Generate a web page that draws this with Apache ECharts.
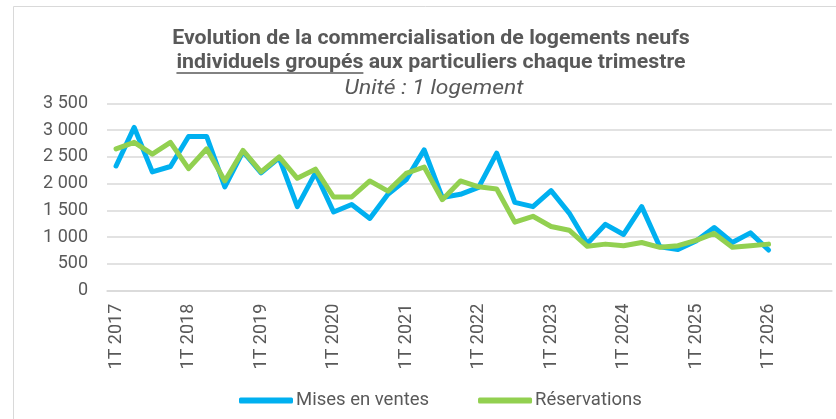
<!DOCTYPE html>
<html>
<head>
<meta charset="utf-8">
<script src="https://cdn.jsdelivr.net/npm/echarts@6/dist/echarts.min.js"></script>
<style>
html,body{margin:0;padding:0;background:#fff;}
#chart{width:836px;height:419px;}
</style>
</head>
<body>
<div id="chart"></div>
<script>
// ---- data ----
const years = [2017, 2018, 2019, 2020, 2021, 2022, 2023, 2024, 2025, 2026];
const quarters = ['1T', '2T', '3T', '4T'];
const categories = [];
years.forEach(y => quarters.forEach(q => categories.push(q + ' ' + y)));

const misesEnVentes = [2330, 3050, 2220, 2320, 2880, 2880, 1940, 2600, 2200, 2480,
  1570, 2200, 1470, 1610, 1350, 1800, 2070, 2630, 1740, 1800,
  1930, 2570, 1650, 1570, 1870, 1450, 880, 1240, 1050, 1570,
  820, 770, 930, 1180, 900, 1080, 760];
const reservations = [2650, 2770, 2550, 2770, 2280, 2650, 2050, 2620, 2220, 2500,
  2100, 2270, 1750, 1750, 2050, 1860, 2190, 2310, 1700, 2050,
  1940, 1900, 1280, 1390, 1200, 1130, 830, 870, 840, 900,
  810, 840, 940, 1070, 810, 840, 870];
const yTicks = [0, 500, 1000, 1500, 2000, 2500, 3000, 3500];

const titleLine1 = 'Evolution de la commercialisation de logements neufs';
const titleLine2a = 'individuels groupés';
const titleLine2b = ' aux particuliers chaque trimestre';
const titleLine3 = 'Unité : 1 logement';

// ---- layout helpers ----
const FONT = 'Roboto, "Liberation Sans", sans-serif';
const TXT = '#595959';
const cx = 431;
const titleSize = 20;
const sx = 1.065;
const subSize = 21;
const subSx = 1.09;
const ctx = document.createElement('canvas').getContext('2d');
ctx.font = 'bold ' + titleSize + 'px Roboto';
const wa = ctx.measureText(titleLine2a).width * sx;
const wb = ctx.measureText(titleLine2b).width * sx;
const l2start = cx - (wa + wb) / 2;

const chart = echarts.init(document.getElementById('chart'));
chart.setOption({
  animation: false,
  textStyle: { fontFamily: FONT },
  grid: { left: 107, right: 4, top: 103.3, bottom: 128.3 },
  graphic: [
    { type: 'rect', shape: { x: 13.5, y: 6.5, width: 900, height: 500 },
      style: { fill: null, stroke: '#d9d9d9', lineWidth: 1 }, silent: true },
    { type: 'text', x: cx, y: 38.5, scaleX: sx,
      style: { text: titleLine1, fontFamily: FONT, fontWeight: 'bold', fontSize: titleSize,
        fill: TXT, align: 'center', verticalAlign: 'middle' } },
    { type: 'text', x: l2start, y: 63, scaleX: sx,
      style: { text: titleLine2a, fontFamily: FONT, fontWeight: 'bold', fontSize: titleSize,
        fill: TXT, align: 'left', verticalAlign: 'middle' } },
    { type: 'text', x: l2start + wa, y: 63, scaleX: sx,
      style: { text: titleLine2b, fontFamily: FONT, fontWeight: 'bold', fontSize: titleSize,
        fill: TXT, align: 'left', verticalAlign: 'middle' } },
    { type: 'line', shape: { x1: l2start, y1: 73, x2: l2start + wa, y2: 73 },
      style: { stroke: TXT, lineWidth: 1.3 } },
    { type: 'text', x: cx + 3, y: 88.5, scaleX: subSx,
      style: { text: titleLine3, fontFamily: FONT, fontStyle: 'italic', fontSize: subSize,
        fill: TXT, align: 'center', verticalAlign: 'middle' } }
  ],
  legend: {
    left: 239, top: 391, padding: 0,
    itemWidth: 54, itemHeight: 6, itemGap: 49,
    icon: 'roundRect',
    textStyle: { color: TXT, fontSize: 18.5, fontFamily: FONT, padding: [0, 0, 0, -2] },
    data: ['Mises en ventes', 'Réservations']
  },
  xAxis: {
    type: 'category',
    data: categories,
    boundaryGap: true,
    axisLine: { lineStyle: { color: '#d9d9d9', width: 1.5 } },
    axisTick: { show: false },
    axisLabel: { interval: 3, rotate: 90, margin: 13, color: TXT, fontSize: 18, fontFamily: FONT },
    splitLine: { show: false }
  },
  yAxis: {
    type: 'value',
    min: yTicks[0], max: yTicks[yTicks.length - 1], interval: 500,
    axisLine: { show: false },
    axisTick: { show: false },
    axisLabel: {
      margin: 19, color: TXT, fontSize: 18, fontFamily: FONT,
      formatter: v => String(v).replace(/\B(?=(\d{3})+(?!\d))/g, ' ')
    },
    splitLine: { lineStyle: { color: '#d9d9d9', width: 1.5 } }
  },
  series: [
    { name: 'Mises en ventes', type: 'line', data: misesEnVentes, showSymbol: false,
      symbol: 'none', color: '#00B0F0',
      lineStyle: { width: 5, color: '#00B0F0', cap: 'round', join: 'round' } },
    { name: 'Réservations', type: 'line', data: reservations, showSymbol: false,
      symbol: 'none', color: '#92D050',
      lineStyle: { width: 5, color: '#92D050', cap: 'round', join: 'round' } }
  ]
});
</script>
</body>
</html>
